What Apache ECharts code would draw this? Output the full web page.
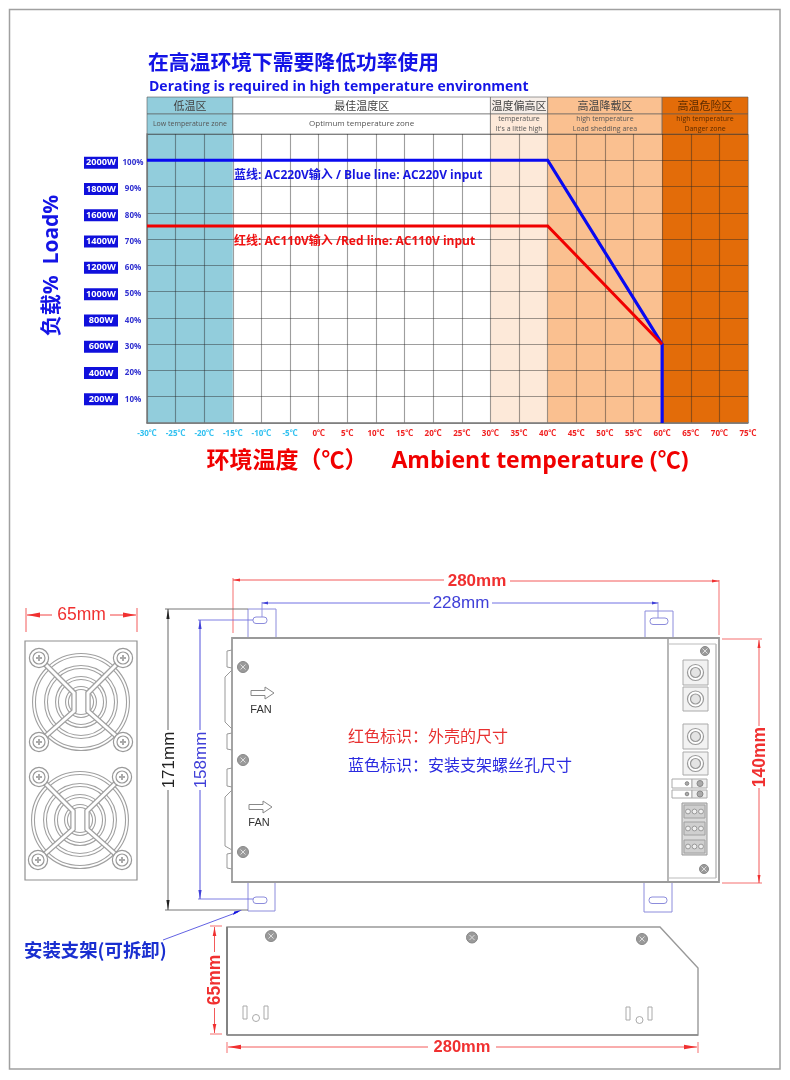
<!DOCTYPE html>
<html><head><meta charset="utf-8">
<style>html,body{margin:0;padding:0;background:#fff}#chart{width:790px;height:1080px;filter:blur(0.4px)}</style>
<script src="https://cdn.jsdelivr.net/npm/echarts@6/dist/echarts.min.js"></script>
</head><body><div id="chart"></div>
<script>
// ---------- data ----------
const xTicks = [-30,-25,-20,-15,-10,-5,0,5,10,15,20,25,30,35,40,45,50,55,60,65,70,75];
const pctLabels = ['10%','20%','30%','40%','50%','60%','70%','80%','90%','100%'];
const wattLabels = ['200W','400W','600W','800W','1000W','1200W','1400W','1600W','1800W','2000W'];
const blueLine = [[-30,100],[40,100],[60,30],[60,0]];
const redLine = [[-30,75],[40,75],[60,30]];
const zoneNames = ['低温区','最佳温度区','温度偏高区','高温降载区','高温危险区'];
const zoneNotes = ['Low temperature zone','Optimum temperature zone',"temperature\nIt's a little high",'high temperature\nLoad shedding area','high temperature\nDanger zone'];
const zoneFrom = [-30,-15,30,40,60];
const zoneTo = [-15,30,40,60,75];
const zoneColors = ['#92CDDC','#FFFFFF','#FDE9D9','#FAC090','#E36C09'];
const CJK = '"Noto Sans CJK SC","Noto Sans",sans-serif';
const LAT = '"Open Sans","Noto Sans CJK SC",sans-serif';
const ARIAL = '"Liberation Sans","Noto Sans CJK SC",sans-serif';

// ---------- drawing helpers for the mechanical diagram ----------
const RED='#F03030', BLUE='#4040D8', GREY='#8C8C8C', DARK='#333';
const g=[];
const line=(x1,y1,x2,y2,c=GREY,w=1)=>g.push({type:'line',shape:{x1,y1,x2,y2},style:{stroke:c,lineWidth:w},silent:true});
const rect=(x,y,w,h,c=GREY,lw=1,fill='none',r=0)=>g.push({type:'rect',shape:{x,y,width:w,height:h,r},style:{stroke:c,lineWidth:lw,fill},silent:true});
const circ=(cx,cy,r,c=GREY,lw=1,fill='none')=>g.push({type:'circle',shape:{cx,cy,r},style:{stroke:c,lineWidth:lw,fill},silent:true});
const poly=(pts,c=GREY,lw=1)=>g.push({type:'polyline',shape:{points:pts},style:{stroke:c,lineWidth:lw,fill:'none'},silent:true});
const pgon=(pts,c,lw=1,fill='none')=>g.push({type:'polygon',shape:{points:pts},style:{stroke:c,lineWidth:lw,fill},silent:true});
const text=(t,x,y,size,c,bold=false,rot=0,font=ARIAL,align='center')=>g.push({type:'text',x,y,z:20,rotation:rot,silent:true,style:{text:t,fill:c,font:`${bold?'bold ':''}${size}px ${font}`,textAlign:align,textVerticalAlign:'middle'}});
const head=(x,y,dx,dy,c,len=10,hw=2)=>{ // arrow tip at x,y, pointing along dx,dy
  pgon([[x,y],[x-dx*len-dy*hw,y-dy*len-dx*hw],[x-dx*len+dy*hw,y-dy*len+dx*hw]],c,0,c);
};
const screw=(x,y,r=5.5)=>{circ(x,y,r,'#888',1,'#9A9A9A');line(x-2.5,y-2.5,x+2.5,y+2.5,'#DDD',1);line(x-2.5,y+2.5,x+2.5,y-2.5,'#DDD',1);};

// page frame
rect(9.5,9.5,770.5,1059.5,'#A0A0A0',1.5);

// chart annotations
text('蓝线: AC220V输入 / Blue line: AC220V input',234,176,12,'#1515E0',true,0,LAT,'left');
text('红线: AC110V输入 /Red line: AC110V input',234,242,12,'#F01010',true,0,LAT,'left');

// fan panel
rect(25,641,112,239,'#909090',1.2);
function fan(cx,cy,tl,tr,bl,br){
  [47,35,24,14].forEach(r=>{circ(cx,cy,r,'#A0A0A0',4);circ(cx,cy,r,'#fff',1.8);});
  const sp=(a,b,sx)=>{const m=[[a[0],a[1]],[cx+sx*7,cy-9],[cx+sx*7,cy+9],[b[0],b[1]]];
    poly(m,'#A0A0A0',5.5);poly(m,'#fff',3);};
  sp(tl,bl,-1);sp(tr,br,1);
  [tl,tr,bl,br].forEach(p=>{circ(p[0],p[1],9.6,'#999',1.2,'#fff');circ(p[0],p[1],6,'#999',1.2,'#fff');
    line(p[0]-3,p[1],p[0]+3,p[1],'#aaa',2);line(p[0],p[1]-3,p[0],p[1]+3,'#aaa',2);});
}
fan(81,702,[39,658],[123,658],[39,742],[123,742]);
fan(80,820,[39,777],[122,777],[38,860],[122,860]);
// 65mm (fan)
line(26,608,26,632,RED,.8);line(137,608,137,632,RED,.8);
line(27,615,52,615,RED,.9);line(110,615,136,615,RED,.9);
head(27,615,-1,0,RED,13,2.4);head(136,615,1,0,RED,13,2.4);
text('65mm',81.5,615,17.5,RED);

// brackets
const BR='#8C8CDC';
rect(248,609,28,29,BR,1);rect(253,617,14,6.5,BR,1,'none',3);
rect(645,611,28,27,BR,1);rect(650,618,18,6.5,BR,1,'none',3);
rect(248,882,27,29,BR,1);rect(253,897,14,6.5,BR,1,'none',3);
rect(644,882,28,30,BR,1);rect(649,897,18,6.5,BR,1,'none',3);

// main body
rect(232,638,487,244,'#9A9A9A',1.8,'#fff');
line(668,639,668,881,'#888',1.2);line(716,644,716,878,'#AAA',1.2);
line(668,644,716,644,'#BBB',1);line(668,878,716,878,'#BBB',1);
screw(243,667);screw(243,760);screw(243,852);
screw(705,651,4.5);screw(704,869,4.5);
// left side notches
[[650,668],[733,750],[768,787],[853,869]].forEach(a=>poly([[232,a[0]],[227,a[0]+1],[227,a[1]-1],[232,a[1]]],'#999',1));
poly([[232,670],[225,677],[225,722],[232,729]],'#999',1);
poly([[232,790],[225,797],[225,846],[232,850]],'#999',1);
// FAN arrows
const hollow=(x,y)=>pgon([[x,y-2.5],[x+14,y-2.5],[x+14,y-6],[x+23,y],[x+14,y+6],[x+14,y+2.5],[x,y+2.5]],'#888',1,'#fff');
hollow(251,693);text('FAN',261,710,11,DARK);
hollow(249,807);text('FAN',259,823,11,DARK);
// terminals
[[660,25],[687,24],[724,25],[752,23]].forEach(a=>{
  rect(683,a[0],25,a[1],'#AAA',1,'#F2F2F2');
  circ(695.5,a[0]+a[1]/2,8,'#999',1.2,'#fff');circ(695.5,a[0]+a[1]/2,5,'#999',1.2,'#E4E4E4');
});
[[779,9],[790,8]].forEach(a=>{
  rect(672,a[0],20,a[1],'#AAA',1,'#fff');rect(692,a[0],15,a[1],'#AAA',1,'#EEE');
  circ(687,a[0]+a[1]/2,1.8,'#888',1,'#AAA');circ(700,a[0]+a[1]/2,3,'#888',1,'#AAA');
});
rect(682,803,25,52,'#999',1,'#DADADA');
[803,820,838].forEach(y=>{rect(684,y+2,21,13,'#A0A0A0',1,'#CFCFCF');
  [688,694.5,701].forEach(x=>circ(x,y+8.5,2.4,'#888',.8,'#EEE'));});

// dims: 280mm top
line(233,578,233,633,RED,.7);line(719,580,719,635,RED,.7);
line(233,580,444,580,RED,.8);line(510,581,719,581,RED,.8);
head(233,580,-1,0,RED,7,1.5);head(719,581,1,0,RED,7,1.5);
text('280mm',477,581,17,RED,true);
// 228mm
line(262,602,262,617,BR,.9);line(658,602,658,618,BR,.9);
line(262,603,430,603,'#6060E0',.9);line(492,603,658,603,'#6060E0',.9);
head(262,603,-1,0,BLUE,6,1.4);head(658,603,1,0,BLUE,6,1.4);
text('228mm',461,603,17,BLUE);
// 171mm
line(165,609,248,609,'#777',1);line(165,910,248,910,'#777',1);
line(168,609,168,730,'#555',.9);line(168,790,168,910,'#555',.9);
head(168,609,0,-1,'#222',10,1.6);head(168,910,0,1,'#222',10,1.6);
text('171mm',169,760,17,'#222',false,Math.PI/2);
// 158mm
line(198,620,253,620,'#7070E0',.9);line(198,899,253,899,'#7070E0',.9);
line(200,620,200,730,BLUE,.9);line(200,790,200,899,BLUE,.9);
head(200,620,0,-1,BLUE,9,1.6);head(200,899,0,1,BLUE,9,1.6);
text('158mm',201,760,17,BLUE,false,Math.PI/2);
// 140mm
line(722,639,762,639,RED,.7);line(722,883,762,883,RED,.7);
line(759,640,759,726,RED,.8);line(759,788,759,883,RED,.8);
head(759,640,0,-1,RED,8,1.5);head(759,883,0,1,RED,8,1.5);
text('140mm',760,757,17.5,RED,true,Math.PI/2);
// centre notes
text('红色标识：外壳的尺寸',348,736,16,'#E83030',false,0,CJK,'left');
text('蓝色标识：安装支架螺丝孔尺寸',348,765,16,'#2A2AE0',false,0,CJK,'left');
// bracket callout
line(163,940,238,912,'#5050E0',.9);head(242,910,.93,-.36,'#1515E0',9,1.8);
text('安装支架(可拆卸)',24,950,18.4,'#1A2FD0',true,0,CJK,'left');

// side view
pgon([[227,927],[660,927],[698,968],[698,1035],[227,1035]],'#999',1.4,'#fff');
line(227,927,227,1035,'#777',1.6);line(227,1035,698,1035,'#888',1.6);
screw(271,936);screw(472,937.5);screw(642,939);
[243,264,626,648].forEach((x,i)=>rect(x,i<2?1006:1007,4,13,'#AAA',1));
circ(256,1018,3.5,'#AAA',1);circ(639.5,1020,3.5,'#AAA',1);
// 65mm side
line(210,926,222,926,RED,.7);line(210,1034,222,1034,RED,.7);
line(214.5,927,214.5,952,RED,.8);line(214.5,1008,214.5,1033,RED,.8);
head(214.5,927,0,-1,RED,9,1.8);head(214.5,1033,0,1,RED,9,1.8);
text('65mm',215,980,17.5,RED,true,Math.PI/2);
// 280mm side
line(227,1042,227,1053,RED,.7);line(698,1042,698,1053,RED,.7);
line(228,1047,428,1047,RED,.8);line(496,1047,697,1047,RED,.8);
head(228,1047,-1,0,RED,13,2.2);head(697,1047,1,0,RED,13,2.2);
text('280mm',462,1047,16.5,RED,true);

// ---------- chart ----------
const zoneArea = zoneFrom.map((f,i)=>[{xAxis:f,yAxis:0,itemStyle:{color:zoneColors[i]}},{xAxis:zoneTo[i],yAxis:110}]);
const headBorder={borderColor:'rgba(90,90,90,.6)',borderWidth:1};
const headTop = zoneFrom.map((f,i)=>[{xAxis:f,yAxis:20,name:zoneNames[i],
  itemStyle:Object.assign({color:i===2?'#F6EEE8':zoneColors[i]},headBorder),
  label:{show:true,position:'inside',color:i===4?'#5A2A00':'#444',fontSize:11,fontFamily:CJK}},{xAxis:zoneTo[i],yAxis:37}]);
const headNote = zoneFrom.map((f,i)=>[{xAxis:f,yAxis:0,name:zoneNotes[i],
  itemStyle:Object.assign({color:zoneColors[i]},headBorder),
  label:{show:true,position:'inside',color:i===4?'#5A2A00':'#555',fontSize:i===1?8:7,lineHeight:10,fontFamily:LAT}},{xAxis:zoneTo[i],yAxis:20}]);

const chart = echarts.init(document.getElementById('chart'),null,{renderer:'canvas'});
chart.setOption({
  animation:false,
  backgroundColor:'#fff',
  title:[
    {text:'在高温环境下需要降低功率使用',left:148,top:52,padding:0,textStyle:{fontSize:20.8,fontWeight:'bold',color:'#1414E6',fontFamily:CJK}},
    {text:'Derating is required in high temperature environment',left:149,top:80,padding:0,textStyle:{fontSize:14,fontWeight:'bold',color:'#1414E6',fontFamily:LAT}}
  ],
  grid:[
    {left:147,right:42,top:134,bottom:657},
    {left:147,right:42,top:97,height:37}
  ],
  xAxis:[
    {type:'value',gridIndex:0,min:-30,max:75,interval:5,z:3,
     name:'环境温度（℃）    Ambient temperature (℃)',nameLocation:'middle',nameGap:27,
     nameTextStyle:{fontSize:23,fontWeight:'bold',color:'#F00000',fontFamily:LAT},
     axisLine:{onZero:false,lineStyle:{color:'#777',width:1.5}},axisTick:{show:false},
     splitLine:{show:true,lineStyle:{color:'rgba(40,40,40,.45)',width:1.1}},
     axisLabel:{margin:7,fontSize:8,fontWeight:'bold',fontFamily:LAT,
       formatter:v=>xTicks.includes(v)?v+'℃':'',
       color:v=>v<0?'#30C0F0':(v===0?'#222':'#F02020'),hideOverlap:false,showMinLabel:true,showMaxLabel:true}},
    {type:'value',gridIndex:1,min:-30,max:75,show:false}
  ],
  yAxis:[
    {type:'value',gridIndex:0,min:0,max:110,interval:10,z:3,
     name:'负载%  Load%',nameLocation:'middle',nameGap:84,
     nameTextStyle:{fontSize:21,fontWeight:'bold',color:'#1414E6',fontFamily:LAT,padding:[0,0,0,26]},
     axisLine:{show:true,onZero:false,lineStyle:{color:'#777',width:1.5}},axisTick:{show:false},
     splitLine:{show:true,lineStyle:{color:'rgba(40,40,40,.45)',width:1.1}},
     axisLabel:{margin:3,showMinLabel:false,showMaxLabel:false,padding:[5,0,0,0],
       formatter:v=>{const i=v/10-1;return (i>=0&&i<pctLabels.length)?`{w|${wattLabels[i]}}{s| }{p|${pctLabels[i]}}`:'';},
       rich:{
         w:{backgroundColor:'#1010DC',color:'#fff',fontSize:9.2,fontWeight:'bold',fontFamily:LAT,width:34,height:12,align:'center',verticalAlign:'middle',lineHeight:12},
         s:{width:4,fontSize:8},
         p:{color:'#3030D0',fontSize:8,fontWeight:'bold',fontFamily:LAT,width:22,align:'center'}
       }}},
    {type:'value',gridIndex:1,min:0,max:37,show:false}
  ],
  series:[
    {type:'line',xAxisIndex:0,yAxisIndex:0,data:[],z:1,markArea:{silent:true,z:1,data:zoneArea}},
    {type:'line',xAxisIndex:1,yAxisIndex:1,data:[],z:1,markArea:{silent:true,z:1,data:headTop.concat(headNote)}},
    {name:'AC220V',type:'line',xAxisIndex:0,yAxisIndex:0,data:blueLine,z:5,showSymbol:false,lineStyle:{color:'#0A0AF0',width:3.2,cap:'butt',join:'miter'}},
    {name:'AC110V',type:'line',xAxisIndex:0,yAxisIndex:0,data:redLine,z:6,showSymbol:false,lineStyle:{color:'#F00000',width:3,join:'miter'}}
  ],
  graphic:{elements:g}
});
</script></body></html>
